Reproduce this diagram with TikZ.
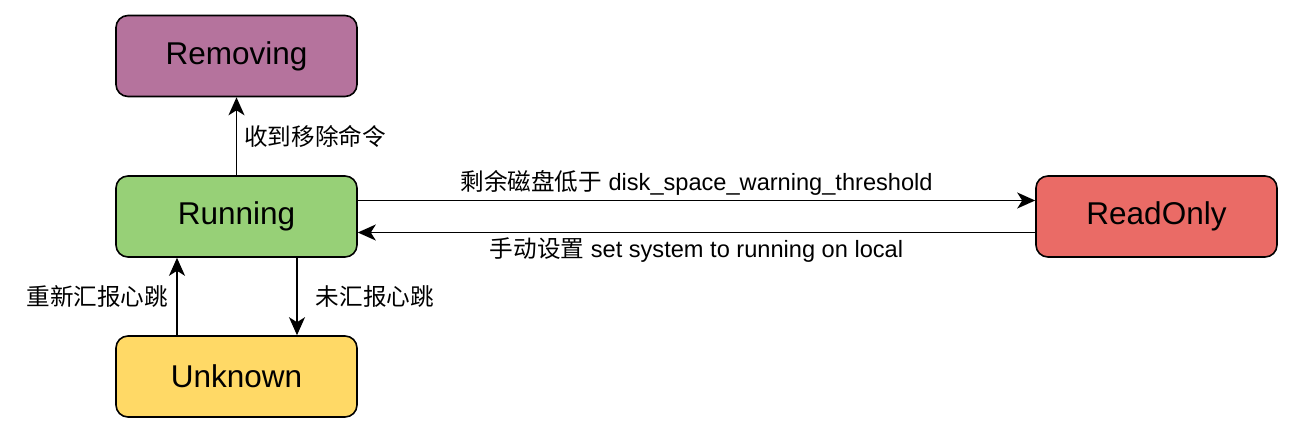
\documentclass[tikz,border=0pt]{standalone}
\usepackage{fontspec}
\setmainfont{Liberation Sans}
\newfontfamily\cjk{Noto Sans CJK SC}
\usetikzlibrary{arrows.meta,positioning}
\definecolor{removingfill}{HTML}{B5739D}
\definecolor{runningfill}{HTML}{97D077}
\definecolor{unknownfill}{HTML}{FFD966}
\definecolor{readonlyfill}{HTML}{EA6B66}

\begin{document}
\begin{tikzpicture}[x=1pt, y=-1pt, >={Stealth[length=18pt, width=16pt, inset=5pt]},
    state/.style={draw, line width=1.6pt, rounded corners=12pt, minimum width=241pt, minimum height=81pt, align=center, font=\fontsize{31.5}{36}\selectfont},
    lbl/.style={font=\fontsize{23.6}{28}\selectfont, inner sep=2pt},
    conn/.style={->, line width=1.6pt}]

    \useasboundingbox (0,0) rectangle (1294,434);

    \node[state, fill=removingfill] (removing) at (236.5,56) {Removing};
    \node[state, fill=runningfill] (running) at (236.5,216.5) {Running};
    \node[state, fill=unknownfill] (unknown) at (236.5,376.5) {Unknown};
    \node[state, fill=readonlyfill] (readonly) at (1156.5,216.5) {ReadOnly};

    % Running -> Removing
    \draw[conn] (running.north) -- (removing.south) node[midway, right, lbl, xshift=5pt]{\cjk 收到移除命令};

    % Running -> ReadOnly
    \draw[conn] ([yshift=16pt]running.east) -- ([yshift=16pt]readonly.west) node[midway, above, lbl, yshift=2pt]{{\cjk 剩余磁盘低于} disk\_space\_warning\_threshold};

    % ReadOnly -> Running
    \draw[conn] ([yshift=-16pt]readonly.west) -- ([yshift=-16pt]running.east) node[midway, below, lbl, yshift=-2pt]{{\cjk 手动设置} set system to running on local};

    % Running -> Unknown
    \draw[conn] ([xshift=60.5pt]running.south) -- ([xshift=60.5pt]unknown.north) node[midway, right, lbl, xshift=16pt]{\cjk 未汇报心跳};

    % Unknown -> Running
    \draw[conn] ([xshift=-59.5pt]unknown.north) -- ([xshift=-59.5pt]running.south) node[midway, left, lbl, xshift=-6pt]{\cjk 重新汇报心跳};
\end{tikzpicture}
\end{document}
